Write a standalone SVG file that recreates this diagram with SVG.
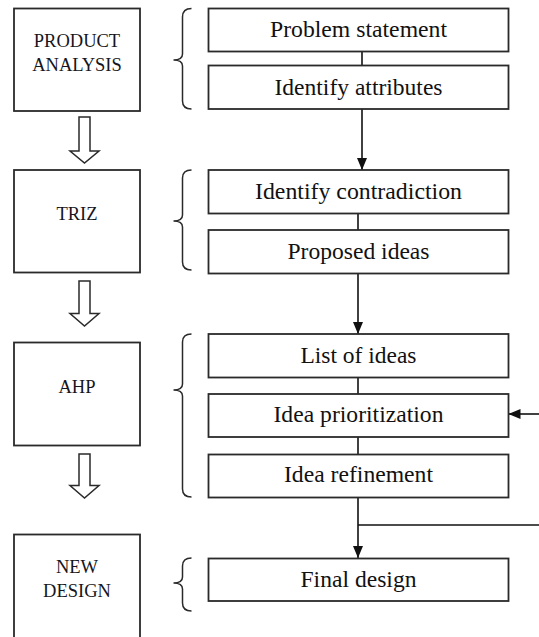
<svg xmlns="http://www.w3.org/2000/svg" width="539" height="637" viewBox="0 0 539 637">
<defs>
<style>
.box{fill:#fff;stroke:#2a2a2a;stroke-width:1.8}
.brace{fill:none;stroke:#2a2a2a;stroke-width:1.5}
.blk{fill:#fff;stroke:#2a2a2a;stroke-width:1.5;stroke-linejoin:miter}
.conn{fill:none;stroke:#111;stroke-width:1.6}
.lt{font-size:18.5px;fill:#151520;text-anchor:middle}
.rt{font-size:23px;fill:#111;text-anchor:middle}
</style>
<marker id="ah" viewBox="0 0 12 10" refX="12" refY="5" markerWidth="12" markerHeight="10" markerUnits="userSpaceOnUse" orient="auto">
<path d="M0,0 L12,5 L0,10 Z" fill="#111"/>
</marker>
</defs>
<rect width="539" height="637" fill="#fff"/>

<g font-family="Liberation Serif, DejaVu Serif, serif">
<g id="stage-product">
<rect class="box" x="14" y="8.5" width="126" height="102.5"/>
<text class="lt" x="77" y="47">PRODUCT</text>
<text class="lt" x="77" y="71">ANALYSIS</text>
</g>
<g id="stage-triz">
<rect class="box" x="14" y="170" width="126" height="102.5"/>
<text class="lt" x="77" y="220">TRIZ</text>
</g>
<g id="stage-ahp">
<rect class="box" x="14" y="342.5" width="126" height="103"/>
<text class="lt" x="77" y="393">AHP</text>
</g>
<g id="stage-new">
<rect class="box" x="14" y="534.5" width="126" height="110"/>
<text class="lt" x="77" y="573">NEW</text>
<text class="lt" x="77" y="597">DESIGN</text>
</g>

<g id="block-arrows">
<path class="blk" d="M79,117 H90 V151 H99 L84.5,163 L70,151 H79 Z"/>
<path class="blk" d="M79,281 H90 V313.5 H99 L84.5,326 L70,313.5 H79 Z"/>
<path class="blk" d="M79,454 H90 V485.5 H99 L84.5,498 L70,485.5 H79 Z"/>
</g>

<g id="braces">
<path class="brace" d="M191.5,8.5 Q182.5,8.5 182.5,17 L182.5,54 Q182.5,60 173.5,60 Q182.5,60 182.5,66 L182.5,101 Q182.5,109 191.5,109"/>
<path class="brace" d="M191.5,170 Q182.5,170 182.5,178 L182.5,215 Q182.5,221 173.5,221 Q182.5,221 182.5,227 L182.5,262 Q182.5,270 191.5,270"/>
<path class="brace" d="M191.5,334 Q182.5,334 182.5,342 L182.5,384 Q182.5,390 173.5,390 Q182.5,390 182.5,396 L182.5,489 Q182.5,497 191.5,497"/>
<path class="brace" d="M191.5,558 Q182.5,558 182.5,566 L182.5,577 Q182.5,583 173.5,583 Q182.5,583 182.5,589 L182.5,603 Q182.5,611 191.5,611"/>
</g>

<g id="connectors">
<line class="conn" x1="362" y1="51.5" x2="362" y2="65.5"/>
<line class="conn" x1="362" y1="109" x2="362" y2="170" marker-end="url(#ah)"/>
<line class="conn" x1="358" y1="213.5" x2="358" y2="230"/>
<line class="conn" x1="358" y1="273.5" x2="358" y2="334" marker-end="url(#ah)"/>
<line class="conn" x1="358" y1="377.5" x2="358" y2="394"/>
<line class="conn" x1="358" y1="437" x2="358" y2="454.5"/>
<line class="conn" x1="539" y1="414" x2="508.5" y2="414" marker-end="url(#ah)"/>
<line class="conn" x1="358" y1="497.5" x2="358" y2="558" marker-end="url(#ah)"/>
<line class="conn" x1="358" y1="525" x2="539" y2="525"/>
</g>

<g id="problem-statement">
<rect class="box" x="208.5" y="8.5" width="300" height="43"/>
<text class="rt" x="358.5" y="37" textLength="177" lengthAdjust="spacingAndGlyphs">Problem statement</text>
</g>
<g id="identify-attributes">
<rect class="box" x="208.5" y="65.5" width="300" height="43.5"/>
<text class="rt" x="358.5" y="94.5" textLength="168" lengthAdjust="spacingAndGlyphs">Identify attributes</text>
</g>
<g id="identify-contradiction">
<rect class="box" x="208.5" y="170" width="300" height="43.5"/>
<text class="rt" x="358.5" y="198.5" textLength="207" lengthAdjust="spacingAndGlyphs">Identify contradiction</text>
</g>
<g id="proposed-ideas">
<rect class="box" x="208.5" y="230" width="300" height="43.5"/>
<text class="rt" x="358.5" y="258.5" textLength="142" lengthAdjust="spacingAndGlyphs">Proposed ideas</text>
</g>
<g id="list-of-ideas">
<rect class="box" x="208.5" y="334" width="300" height="43.5"/>
<text class="rt" x="358.5" y="363" textLength="116" lengthAdjust="spacingAndGlyphs">List of ideas</text>
</g>
<g id="idea-prioritization">
<rect class="box" x="208.5" y="394" width="300" height="43"/>
<text class="rt" x="358.5" y="422" textLength="170" lengthAdjust="spacingAndGlyphs">Idea prioritization</text>
</g>
<g id="idea-refinement">
<rect class="box" x="208.5" y="454.5" width="300" height="43"/>
<text class="rt" x="358.5" y="482" textLength="149" lengthAdjust="spacingAndGlyphs">Idea refinement</text>
</g>
<g id="final-design">
<rect class="box" x="208.5" y="558.5" width="300" height="42.5"/>
<text class="rt" x="358.5" y="586.5" textLength="116" lengthAdjust="spacingAndGlyphs">Final design</text>
</g>
</g>
</svg>
